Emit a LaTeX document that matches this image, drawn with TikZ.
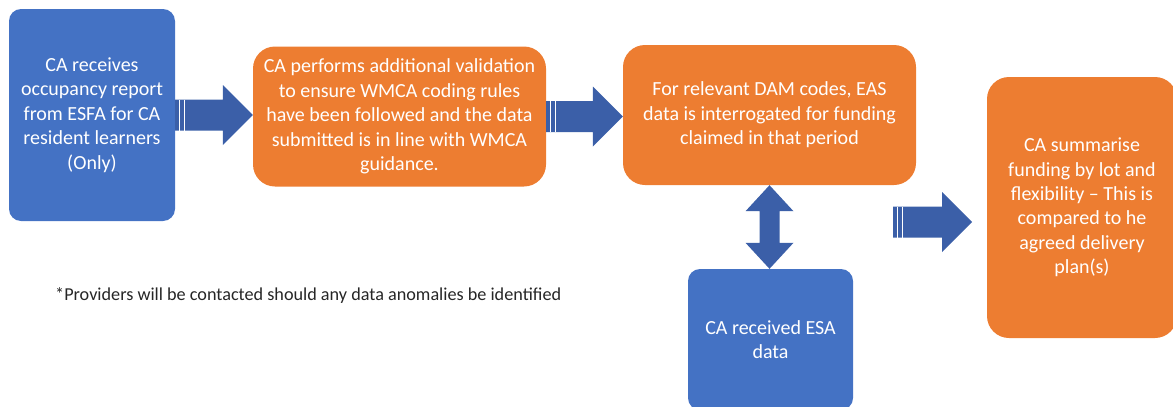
\documentclass[tikz,border=0pt]{standalone}
\usepackage{fontspec}
\setmainfont{Carlito}
\usepackage{tikz}
\usetikzlibrary{calc,positioning}
\definecolor{boxblue}{HTML}{4472C4}
\definecolor{boxorange}{HTML}{ED7D31}
\definecolor{arrowblue}{HTML}{3B5FA8}

% striped block arrow, tail #1 to tip #2 (same height)
\newcommand{\stripearrow}[2]{%
  \fill[arrowblue] let \p1=(#1), \p2=(#2) in
    (\x1,\y1+15.5pt) -- (\x2-30pt,\y1+15.5pt) -- (\x2-30pt,\y1+30pt) -- (\x2,\y1)
    -- (\x2-30pt,\y1-30pt) -- (\x2-30pt,\y1-15.5pt) -- (\x1,\y1-15.5pt) -- cycle;
  \draw[white, line width=0.9pt] let \p1=(#1) in
    (\x1+4.5pt,\y1+15.5pt) -- (\x1+4.5pt,\y1-15.5pt)
    (\x1+9.5pt,\y1+15.5pt) -- (\x1+9.5pt,\y1-15.5pt);
}

\begin{document}
\begin{tikzpicture}[x=1pt, y=-1pt,
  stepbox/.style={rectangle, inner sep=0pt, text=white, align=center, font=\fontsize{20}{24.4}\selectfont},
  bluebox/.style={stepbox, fill=boxblue, rounded corners=12pt},
  orangebox/.style={stepbox, fill=boxorange, rounded corners=22pt},
  note/.style={font=\fontsize{18.2}{21}\selectfont\color{black!85}, anchor=west, inner sep=0pt}]
\useasboundingbox (0,0) rectangle (1173,407);
\node (a) at (92, 115) [bluebox, minimum width=166pt, minimum height=212pt] {CA receives\\occupancy report\\from ESFA for CA\\resident learners\\(Only)};
\node (b) at (399.5, 116.5) [orangebox, minimum width=293pt, minimum height=140pt] {CA performs additional validation\\to ensure WMCA coding rules\\have been followed and the data\\submitted is in line with WMCA\\guidance.};
\node (c) at (769.5, 115) [orangebox, minimum width=293pt, minimum height=140pt] {For relevant DAM codes, EAS\\data is interrogated for funding\\claimed in that period};
\node (d) at (770.5, 339.5) [bluebox, minimum width=165pt, minimum height=141pt] {CA received ESA\\data};
\node (e) at (1082, 207.5) [orangebox, minimum width=190pt, minimum height=261pt] {CA summarise\\funding by lot and\\flexibility -- This is\\compared to he\\agreed delivery\\plan(s)};
\node (n) at (55, 296) [note] {*Providers will be contacted should any data anomalies be identified};
\coordinate (s3) at (893, 222);
\coordinate (t3) at (972, 222);
\stripearrow{a.east}{b.west}
\stripearrow{b.east}{c.west}
\stripearrow{s3}{t3}
\fill[arrowblue] let \p1=(c.south), \p2=(d.north) in
  (\x1,\y1) -- (\x1+24pt,\y1-26pt) -- (\x1+10pt,\y1-26pt) -- (\x1+10pt,\y2+26pt)
  -- (\x1+24pt,\y2+26pt) -- (\x1,\y2) -- (\x1-24pt,\y2+26pt) -- (\x1-10pt,\y2+26pt)
  -- (\x1-10pt,\y1-26pt) -- (\x1-24pt,\y1-26pt) -- cycle;
\end{tikzpicture}
\end{document}
